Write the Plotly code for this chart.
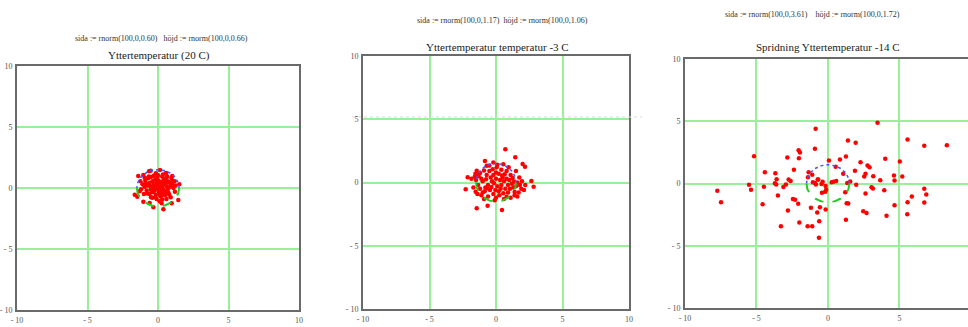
import numpy as np
import plotly.graph_objects as go

# ---------------- data ----------------
titles = ["Yttertemperatur (20 C)",
          "Yttertemperatur temperatur -3 C",
          "Spridning Yttertemperatur -14 C"]
formulas = ["sida := rnorm(100,0,0.60)   höjd := rnorm(100,0,0.66)",
            "sida := rnorm(100,0,1.17)  höjd := rnorm(100,0,1.06)",
            "sida := rnorm(100,0,3.61)    höjd := rnorm(100,0,1.72)"]
tick_vals = [-10, -5, 0, 5, 10]
tick_text = ["- 10", "- 5", "0", "5", "10"]
circle_radius = 1.5

p1_x = [-1.40, -1.04, -0.52, 0.14, 0.54, 1.01, 1.51, -1.47, -1.04, -0.33, 0.38, 0.26, 0.97, 1.44,
        -1.65, -1.30, -0.64, 0.59, 1.18, 0.95, -0.59, 0.12,
        -0.9, -0.7, -0.5, -0.3, 0.0, 0.3, 0.6, 0.8, 1.0, 1.1,
        -1.1, -0.95, -0.8, -0.6, -0.4, -0.1, 0.2, 0.5, 0.75, 0.9,
        -0.6, -0.4, -0.2, 0.05, 0.25, 0.45, 0.6, 0.7, 0.55, 0.35,
        0.1, -0.15, -0.35, -0.5, -0.55, -0.3, -0.1, 0.15, 0.3, 0.4,
        0.2, 0.0, -0.2, -0.1, 0.1, -0.25, 0.05, 0.25, -0.4, 0.5,
        -0.75, -0.85, -0.2, 0.65, 0.85, 1.2, -1.2, -0.05, 0.4, -0.65,
        0.3, -0.5, 0.8, 1.05, -1.0, 0.0, -0.3, 0.15, 0.6, -0.75,
        0.9, -0.15, 0.35, -0.95, 1.25, -1.25, 0.7, -0.45]
p1_y = [0.98, 1.07, 1.42, 1.48, 1.20, 0.98, 0.30, -0.71, -1.12, -1.58, -1.75, -1.26, -1.26, -0.98,
        -0.55, -0.27, 1.37, 1.23, 0.55, 0.82, -1.23, -1.09,
        0.6, 0.8, 0.9, 1.0, 1.05, 0.95, 0.7, 0.5, 0.3, 0.0,
        0.3, 0.1, -0.2, -0.5, -0.8, -0.9, -0.7, -0.6, -0.4, -0.75,
        0.4, 0.55, 0.7, 0.6, 0.5, 0.35, 0.15, -0.1, -0.3, -0.45,
        -0.4, -0.55, -0.35, -0.1, 0.15, 0.3, 0.4, 0.3, 0.1, -0.15,
        -0.2, -0.1, 0.0, 0.15, 0.05, -0.2, -0.3, 0.2, 0.1, 0.55,
        -0.45, 0.35, -0.75, 0.95, 0.1, -0.3, -0.1, 0.85, 0.75, 0.95,
        -0.95, -0.75, -0.55, 0.6, -0.5, 0.3, -0.05, -0.6, -0.9, 0.2,
        0.35, 1.2, 1.1, 0.85, 0.2, 0.55, 0.45, -0.3]

p2_x = [0.70, 1.45, 2.0, 2.18, -0.83, -0.20, 0.55, -0.70, 0.05, -1.45, -1.40, -2.13, -2.28, -1.53,
        -1.45, -0.63, 0.45, 2.66, 2.83, 0.80, 1.40,
        -1.6, -1.5, -1.3, -1.2, -1.1, -1.0, -1.35, -1.2, -1.0, -0.8,
        -0.7, -0.5, -0.4, -0.3, -0.6, -0.45, -0.2, 0.0, 0.2, 0.1,
        0.0, 0.2, 0.4, 0.5, 0.6, 0.4, 0.7, 0.9, 1.0, 1.1,
        1.2, 1.3, 1.5, 1.6, 1.8, 1.9, 1.7, 1.4, 1.1, 0.6,
        -0.1, -0.6, -0.9, -1.4, 0.3, -0.2, 0.8, 1.5, -0.9, 0.1,
        -1.7, 2.2, 2.1, 1.95, -0.35, 0.25, 0.9, -0.75, 1.25, 0.65,
        -0.15, 0.35, -1.85, -1.1, 0.95, -0.5, 1.6, 0.0, -0.85, 1.35,
        -0.25, 0.55, 1.75, -1.55, 0.8, -0.05, 0.45, -0.65, 1.05]
p2_y = [2.62, 1.99, 1.46, 1.25, 1.70, 1.59, 1.44, 1.33, 1.20, 0.93, 0.67, 0.41, -0.54, -0.73,
        -2.04, -1.83, -2.17, 0.12, -0.33, -1.12, -0.75,
        0.45, 0.2, 0.5, 0.75, 0.3, 0.1, -0.2, -0.5, -0.8, -0.4,
        0.6, 0.9, 0.4, 0.1, -0.2, -0.6, -0.9, -1.2, -0.7, -0.3,
        0.3, 0.7, 1.0, 0.4, 0.1, -0.2, -0.5, -0.2, 0.2, 0.6,
        -0.1, -0.4, -0.3, 0.0, -0.2, -0.5, -0.8, -1.0, -1.2, -1.3,
        -1.4, -1.1, -1.3, -0.9, 0.2, 0.6, 0.9, 0.9, 0.95, 1.4,
        -0.4, -0.2, -0.6, 0.1, -0.35, -1.0, -0.8, 0.25, 0.35, 0.65,
        -0.05, -0.5, 0.3, -1.0, 1.2, 1.35, -1.1, 0.8, -0.7, 0.05,
        1.05, -0.85, 0.4, 0.7, 0.3, -0.6, 0.55, -0.45, -0.5]

p3_x = [3.47, -0.86, 1.40, 1.94, 5.57, 6.74, 8.32, -5.17, -2.05, -1.96, -0.91, -2.84, -2.03, 1.26,
        0.84, 0.07, 4.01, 5.03, 2.28, 2.77, 2.91, -2.38, -4.41, -3.68, 1.89, -1.35, 0.54, -3.59,
        2.54, 2.63, 3.17, 4.62, 5.20, 4.66, -2.75, -2.61, -2.94, -3.12, -3.71, -3.62, -1.10, -1.05,
        -0.68, -0.84, -0.37, -0.16, -0.12, -0.42, 0.26, 0.58, 1.35, 1.56, 1.98, 3.66, 3.94, -5.52,
        -5.38, -4.48, 1.21, 3.05, 3.15, 2.63, 6.74, 6.88, 5.87, 5.57, 6.74, 4.66, 5.55, -3.50,
        -4.57, -2.45, -2.30, -2.08, -0.56, -0.75, -1.19, -0.16, -2.80, -2.00, -3.29, -1.42, -1.10,
        -0.61, -0.63, 1.26, 1.31, 1.42, 2.47, 2.70, 4.10, -7.74, -7.48, -1.40, 1.07, -0.72,
        -0.91, -0.45, -0.19, 0.40]
p3_y = [4.87, 4.39, 3.45, 3.27, 3.53, 3.03, 3.08, 2.19, 2.68, 2.49, 2.79, 2.09, 2.03, 2.17,
        1.93, 1.85, 1.98, 1.77, 1.71, 1.45, 1.31, 1.10, 0.91, 0.83, 1.02, 0.91, 1.34, 0.35,
        0.56, 0.78, 0.59, 0.64, 0.56, 0.24, 0.32, 0.21, -0.08, -0.29, 0.03, -0.08, 0.70, 0.11,
        0.32, -0.08, 0.14, -0.21, -0.51, -0.75, 0.11, 0.21, 0.05, 0.16, -0.11, 0.27, -0.54, -0.11,
        -0.51, -0.27, -0.70, -0.30, -0.40, -0.80, -0.43, -0.88, -1.04, -1.50, -1.53, -1.74, -2.46, -0.96,
        -1.66, -1.25, -1.30, -1.63, -1.90, -2.33, -1.95, -2.09, -2.17, -3.13, -3.43, -3.43, -3.43,
        -3.03, -4.36, -2.92, -1.58, -1.60, -2.22, -2.36, -2.60, -0.59, -1.50, 0.51, 0.78, 0.32,
        0.05, -0.05, -0.67, 0.15]

panels = [(p1_x, p1_y), (p2_x, p2_y), (p3_x, p3_y)]

# ---------------- layout geometry (pixels) ----------------
W, H = 968, 327
plot_boxes = [(17, 299, 66, 310), (363, 629, 56, 309), (685, 968, 59, 308)]
x_ranges = [[-10, 10], [-10, 10], [-10, 9.8]]
title_pos = [(159, 55), (497, 47), (827, 47)]
formula_pos = [(161, 38), (503, 20), (812, 15)]

grid_col = "#99f099"
border_col = "#6a6a6a"
font_serif = "Liberation Serif, Times New Roman, serif"

fig = go.Figure()
theta_up = np.linspace(0, np.pi, 60)
theta_dn = np.linspace(np.pi, 2 * np.pi, 60)

for i, (px, py) in enumerate(panels):
    k = "" if i == 0 else str(i + 1)
    xa, ya = "x" + k, "y" + k
    fig.add_trace(go.Scatter(x=px, y=py, mode="markers",
                             marker=dict(color="#ff0000", size=4.5, line=dict(width=0)),
                             xaxis=xa, yaxis=ya, showlegend=False))
    # circle halves
    fig.add_trace(go.Scatter(x=circle_radius * np.cos(theta_up), y=circle_radius * np.sin(theta_up),
                             mode="lines", line=dict(color="#4455ff", width=1.5, dash="dot"),
                             xaxis=xa, yaxis=ya, showlegend=False, hoverinfo="skip"))
    fig.add_trace(go.Scatter(x=circle_radius * np.cos(theta_dn), y=circle_radius * np.sin(theta_dn),
                             mode="lines", line=dict(color="#22cc22", width=2, dash="dash"),
                             xaxis=xa, yaxis=ya, showlegend=False, hoverinfo="skip"))

    x0, x1, y0, y1 = plot_boxes[i]
    axis_common = dict(tickmode="array", tickvals=tick_vals, ticktext=tick_text,
                       showgrid=True, gridcolor=grid_col, gridwidth=1.5, zeroline=False,
                       showline=True, linecolor=border_col, linewidth=2, ticks="",
                       automargin=False,
                       tickfont=dict(family=font_serif, size=8, color="#555"))
    xaxis = dict(axis_common, domain=[x0 / W, x1 / W], range=x_ranges[i], mirror=True,
                 anchor=ya, ticklabelstandoff=1)
    yaxis = dict(axis_common, domain=[(H - y1) / H, (H - y0) / H], range=[-10, 10],
                 mirror=(i != 2), anchor=xa, ticklabelstandoff=1)
    fig.layout["xaxis" + k] = xaxis
    fig.layout["yaxis" + k] = yaxis

annotations = []
for i in range(3):
    tx, ty = title_pos[i]
    fx, fy = formula_pos[i]
    annotations.append(dict(text=titles[i], x=tx / W, y=(H - ty) / H, xref="paper", yref="paper",
                            showarrow=False, xanchor="center", yanchor="middle",
                            font=dict(family=font_serif, size=11, color="#222")))
    annotations.append(dict(text=formulas[i], x=fx / W, y=(H - fy) / H, xref="paper", yref="paper",
                            showarrow=False, xanchor="center", yanchor="middle",
                            font=dict(family=font_serif, size=8, color="#333")))

# faint stray dotted line seen in the middle panel of the original screenshot
shapes = [dict(type="line", xref="paper", yref="paper", x0=352 / W, x1=642 / W,
               y0=(H - 117) / H, y1=(H - 117) / H, line=dict(color="#d8d8d8", width=1, dash="dot"))]

fig.update_layout(width=W, height=H, margin=dict(l=0, r=0, t=0, b=0),
                  paper_bgcolor="white", plot_bgcolor="white",
                  annotations=annotations, shapes=shapes, showlegend=False)

fig.write_html("out.html", config={"displayModeBar": False},
               post_script="document.body.style.margin='0';document.body.style.overflow='hidden';")
